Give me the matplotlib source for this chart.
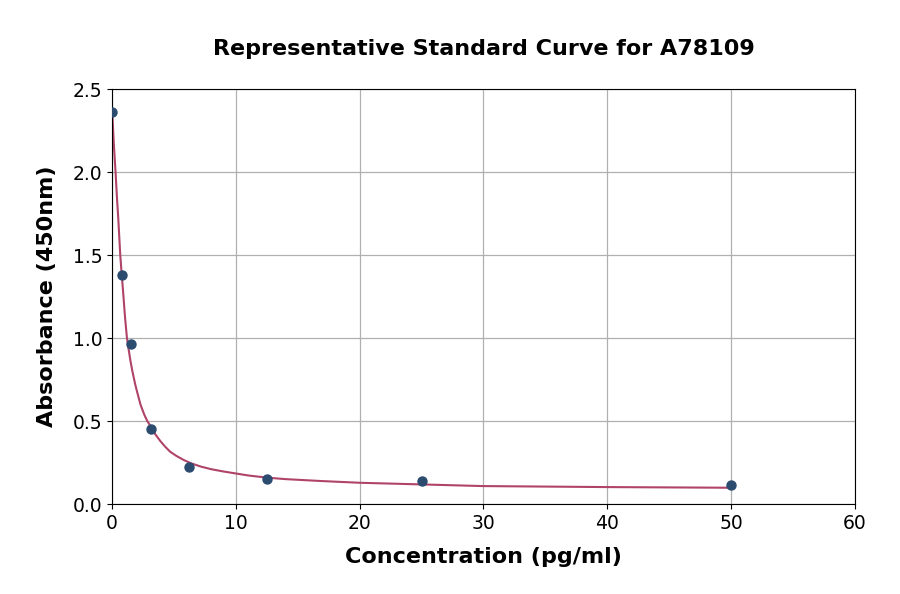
import matplotlib
matplotlib.use('Agg')
import matplotlib.pyplot as plt

# Standard points (concentration pg/ml, absorbance at 450nm)
conc = [0, 0.78, 1.5625, 3.125, 6.25, 12.5, 25, 50]
absorb = [2.36, 1.38, 0.967, 0.451, 0.223, 0.149, 0.140, 0.114]

# Fitted curve
curve_x = [0, 0.05, 0.15, 0.29, 0.4, 0.51, 0.67, 0.78, 0.9, 1.05, 1.21, 1.35,
           1.5, 1.65, 1.88, 2.0, 2.3, 2.6, 2.85, 3.2, 3.5, 3.9, 4.3, 4.7,
           5.2, 5.8, 6.4, 7.2, 8, 9, 10, 11, 12.5, 14, 16.75, 20, 25, 30,
           40, 50]
curve_y = [2.36, 2.32, 2.17, 2.0, 1.85, 1.72, 1.5, 1.39, 1.28, 1.13, 1.0, 0.93,
           0.86, 0.8, 0.72, 0.685, 0.6, 0.54, 0.5, 0.46, 0.42, 0.38, 0.345, 0.315,
           0.29, 0.265, 0.245, 0.225, 0.21, 0.196, 0.184, 0.172, 0.159, 0.15,
           0.139, 0.128, 0.118, 0.108, 0.102, 0.098]

xticks = [0, 10, 20, 30, 40, 50, 60]
yticks = [0.0, 0.5, 1.0, 1.5, 2.0, 2.5]

fig = plt.figure(figsize=(9, 5.94), dpi=100)
ax = fig.add_axes([0.1244, 0.1515, 0.8256, 0.6985])

ax.plot(curve_x, curve_y, color='#b0436a', linewidth=1.5, zorder=2)
ax.scatter(conc, absorb, color='#2b4c6f', s=42, zorder=3)

ax.set_xlim(0, 60)
ax.set_ylim(0, 2.5)
ax.set_xticks(xticks)
ax.set_yticks(yticks)
ax.set_yticklabels(['%.1f' % v for v in yticks])
ax.tick_params(labelsize=13.5)
ax.grid(True, color='#b0b0b0', linewidth=0.9)
ax.set_axisbelow(True)

ax.set_xlabel('Concentration (pg/ml)', fontsize=16, fontweight='bold', labelpad=10)
ax.set_ylabel('Absorbance (450nm)', fontsize=16, fontweight='bold', labelpad=11)
fig.suptitle('Representative Standard Curve for A78109', fontsize=16,
             fontweight='bold', x=0.5372, y=0.935)

fig.savefig('out.png', dpi=100)
